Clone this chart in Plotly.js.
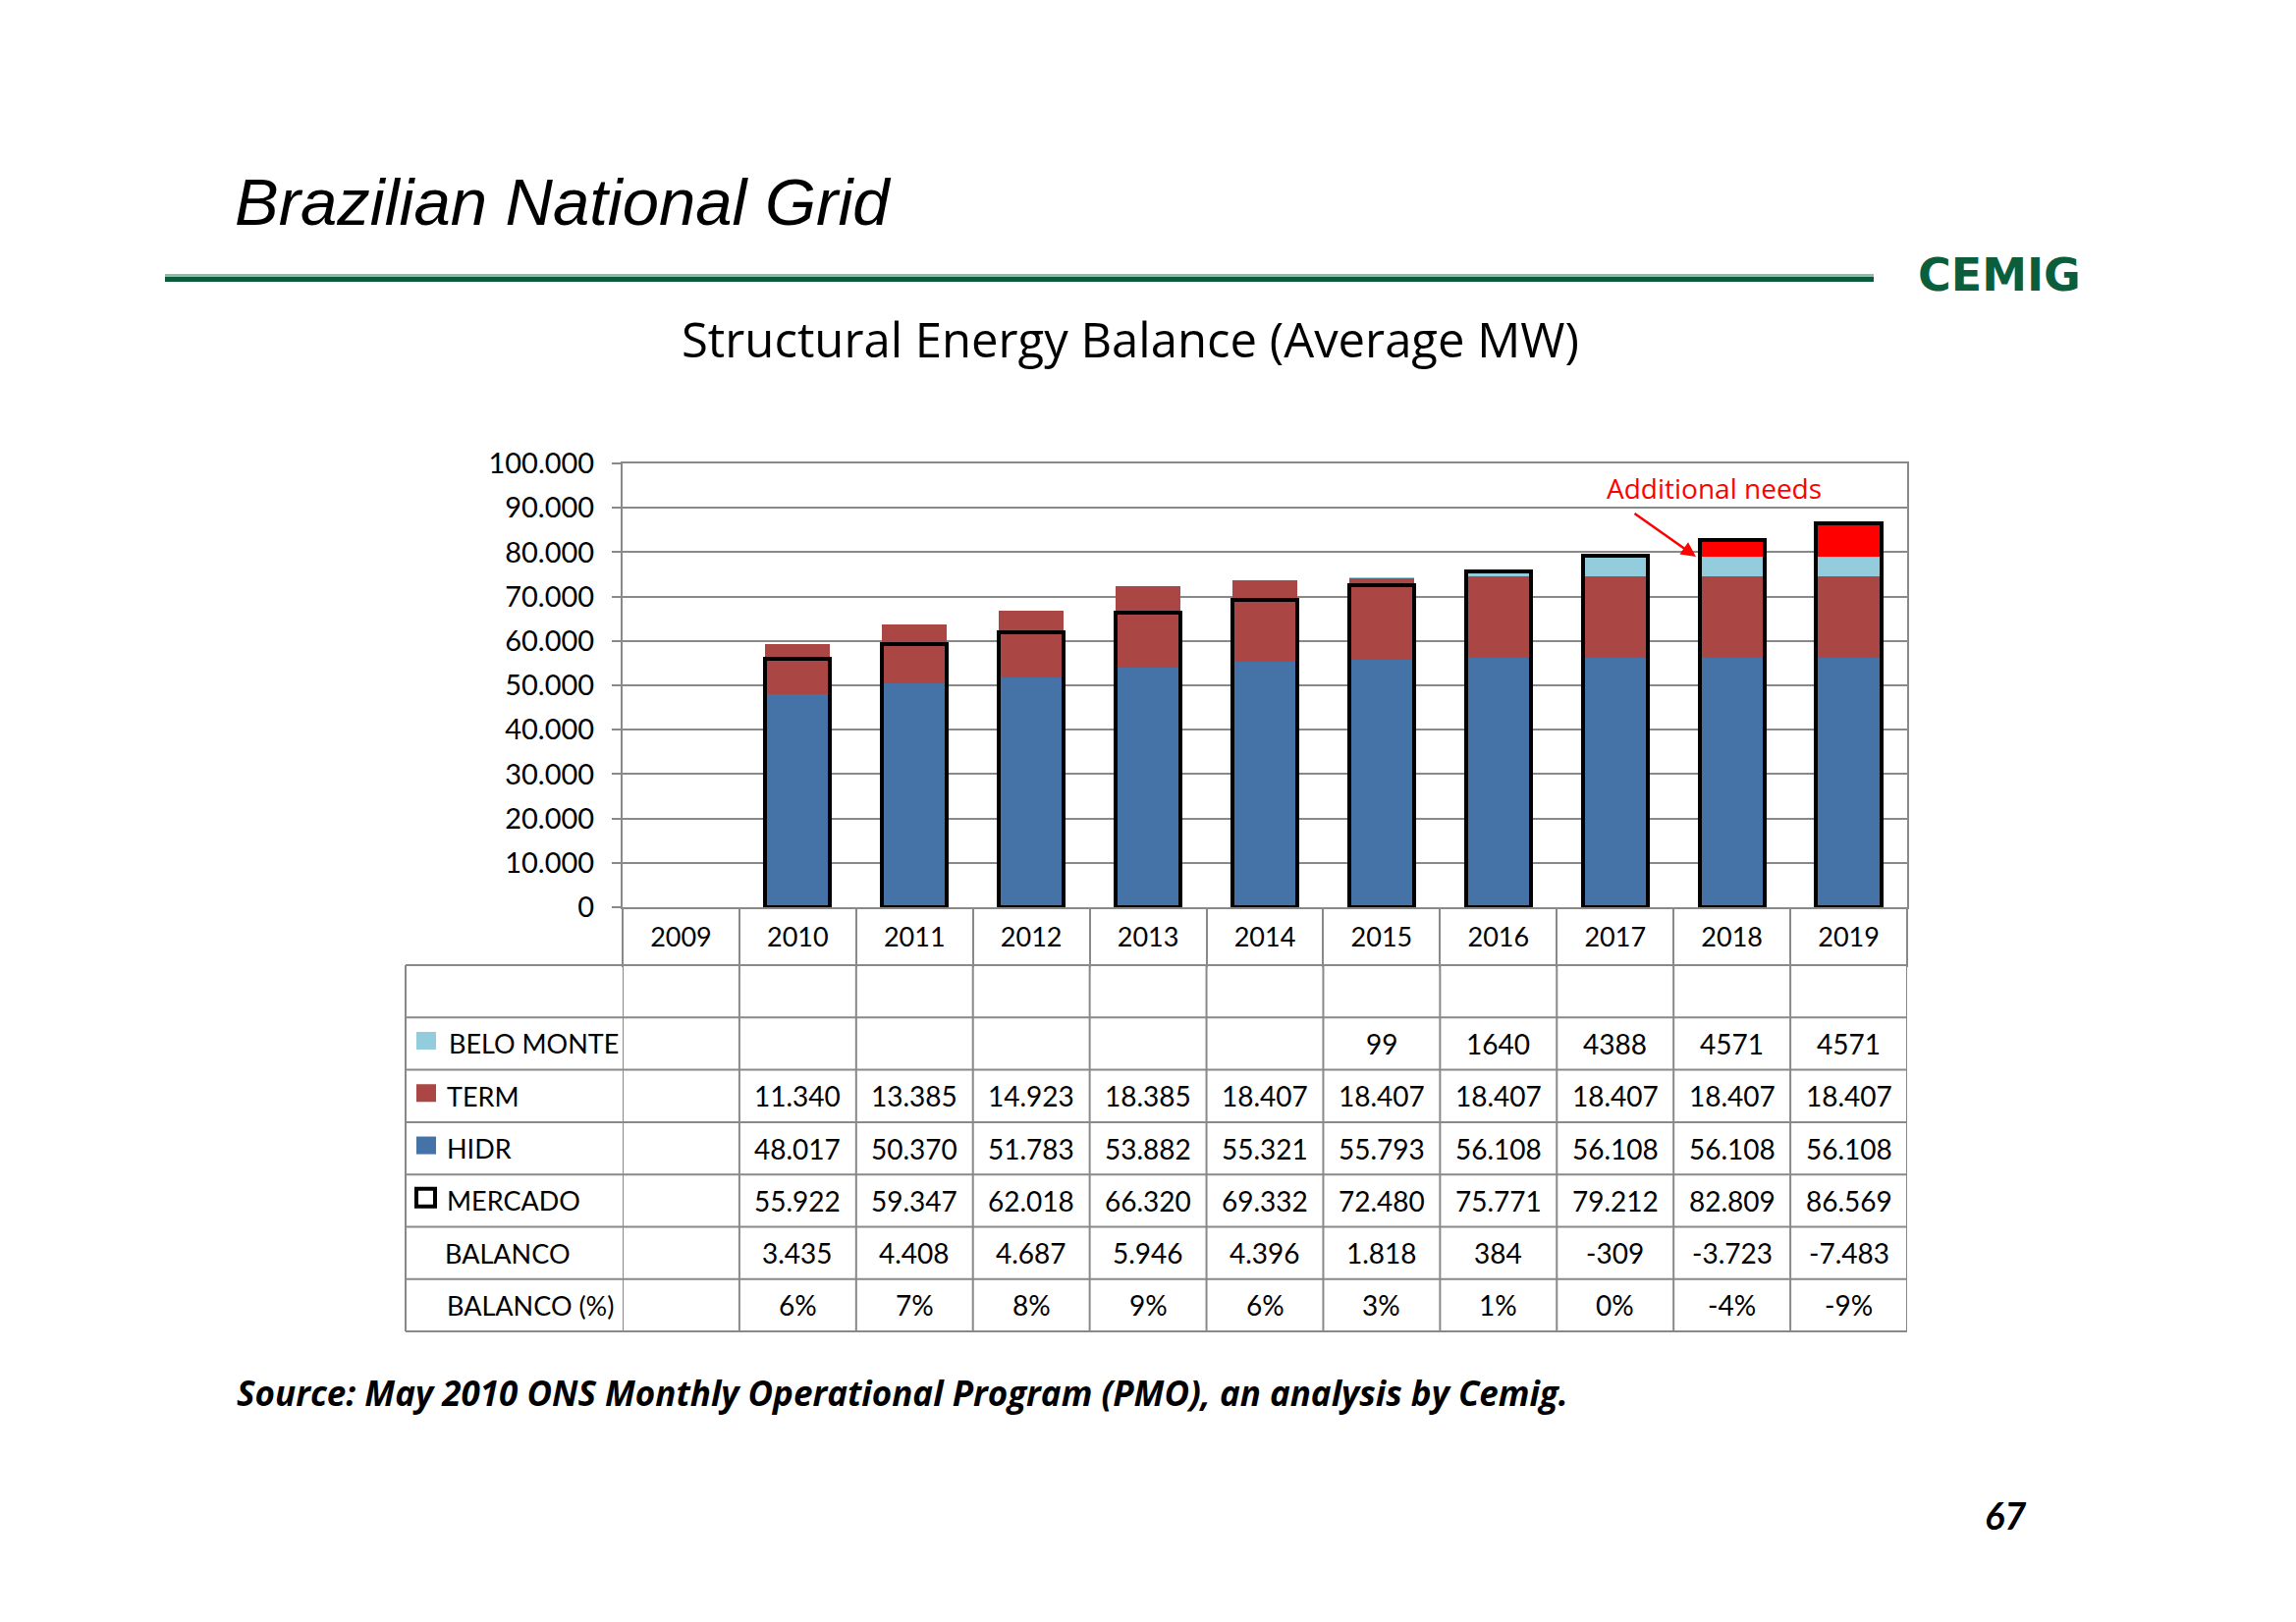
<!DOCTYPE html>
<html>
<head>
<meta charset="utf-8">
<script src="https://cdn.plot.ly/plotly-3.0.1.min.js"></script>
<style>html,body{margin:0;padding:0;background:#fff;}#chart{width:2338px;height:1652px;}</style>
</head>
<body>
<div id="chart"></div>
<script>
// ---------- DATA ----------
const years = ['2009','2010','2011','2012','2013','2014','2015','2016','2017','2018','2019'];
const beloMonte = [null, null, null, null, null, null, 99, 1640, 4388, 4571, 4571];
const term = [null, 11340, 13385, 14923, 18385, 18407, 18407, 18407, 18407, 18407, 18407];
const hidr = [null, 48017, 50370, 51783, 53882, 55321, 55793, 56108, 56108, 56108, 56108];
const mercado = [null, 55922, 59347, 62018, 66320, 69332, 72480, 75771, 79212, 82809, 86569];
const balanco = [null, 3435, 4408, 4687, 5946, 4396, 1818, 384, -309, -3723, -7483];
const balancoPct = [null, 6, 7, 8, 9, 6, 3, 1, 0, -4, -9];
const additionalNeeds = [null, null, null, null, null, null, null, null, 309, 3723, 7483];
const yTicks = [0, 10000, 20000, 30000, 40000, 50000, 60000, 70000, 80000, 90000, 100000];
const rowLabels = ['', 'BELO MONTE', 'TERM', 'HIDR', 'MERCADO', 'BALANCO', 'BALANCO (%)'];

// ---------- LAYOUT HELPERS ----------
const L = 634, R = 1942, T = 472, B = 924;
const px = X => (X - L) / (R - L);
const py = Y => (B - Y) / (B - T);
const tableTop = 983, rowH = 53.3;
const rowTop = i => tableTop + i * rowH;
const gray = '#898989';
const FONT = 'Lato, "Open Sans", sans-serif';
const WIDE = '"Open Sans", Lato, sans-serif';

function thou(v) {
  const s = String(Math.abs(v)).replace(/\B(?=(\d{3})+(?!\d))/g, '.');
  return (v < 0 ? '-' : '') + s;
}

// ---------- TRACES ----------
const barW = 0.556;
const common = {type: 'bar', x: years, width: barW, hoverinfo: 'skip'};
const traces = [
  Object.assign({}, common, {name: 'HIDR', y: hidr, marker: {color: '#4572A7'}}),
  Object.assign({}, common, {name: 'TERM', y: term, marker: {color: '#AA4643'}}),
  Object.assign({}, common, {name: 'BELO MONTE', y: beloMonte, marker: {color: '#93CDDD'}}),
  Object.assign({}, common, {name: 'Additional needs', y: additionalNeeds, marker: {color: '#FF0000'}}),
  Object.assign({}, common, {name: 'MERCADO', y: mercado, xaxis: 'x2', yaxis: 'y',
    marker: {color: 'rgba(0,0,0,0)', line: {color: '#000000', width: 4}}})
];

// ---------- SHAPES (table grid, swatches, header rule) ----------
const shapes = [];
shapes.push({type: 'rect', xref: 'paper', yref: 'paper', x0: px(168), x1: px(1908), y0: py(279), y1: py(282),
  fillcolor: '#8fbca7', line: {width: 0}, layer: 'above'});
shapes.push({type: 'rect', xref: 'paper', yref: 'paper', x0: px(168), x1: px(1908), y0: py(282), y1: py(287),
  fillcolor: '#0b5a3b', line: {width: 0}, layer: 'above'});
for (let i = 0; i <= 7; i++) {
  shapes.push({type: 'line', xref: 'paper', yref: 'paper', x0: px(413), x1: 1, y0: py(rowTop(i)), y1: py(rowTop(i)),
    line: {color: gray, width: 2}});
}
shapes.push({type: 'line', xref: 'paper', yref: 'paper', x0: px(413), x1: px(413), y0: py(rowTop(0)), y1: py(rowTop(7)),
  line: {color: gray, width: 2}});
for (let k = 0; k <= years.length; k++) {
  shapes.push({type: 'line', xref: 'x', yref: 'paper', x0: k - 0.5, x1: k - 0.5, y0: py(rowTop(0)), y1: py(rowTop(7)),
    line: {color: gray, width: 2}});
}
const swatchColors = {1: '#93CDDD', 2: '#AA4643', 3: '#4572A7'};
[1, 2, 3].forEach(i => {
  const c = rowTop(i) + rowH / 2 - 3;
  shapes.push({type: 'rect', xref: 'paper', yref: 'paper', x0: px(424), x1: px(444), y0: py(c - 9), y1: py(c + 9),
    fillcolor: swatchColors[i], line: {width: 0}});
});
{
  const c = rowTop(4) + rowH / 2 - 3;
  shapes.push({type: 'rect', xref: 'paper', yref: 'paper', x0: px(424), x1: px(443), y0: py(c - 9), y1: py(c + 9),
    fillcolor: 'rgba(0,0,0,0)', line: {color: '#000', width: 4}});
}

// ---------- ANNOTATIONS ----------
const ann = [];
const labelX = [455, 455, 453, 453, 453, 451, 453];
for (let i = 1; i <= 6; i++) {
  ann.push({xref: 'paper', yref: 'paper', x: px(labelX[i]), y: py(rowTop(i) + rowH / 2), xanchor: 'left', yanchor: 'middle',
    text: rowLabels[i], showarrow: false, font: {family: FONT, size: 27, color: '#000'}});
}
const rows = [
  {i: 1, vals: beloMonte, f: v => String(v)},
  {i: 2, vals: term, f: thou},
  {i: 3, vals: hidr, f: thou},
  {i: 4, vals: mercado, f: thou},
  {i: 5, vals: balanco, f: thou},
  {i: 6, vals: balancoPct, f: v => v + '%'}
];
rows.forEach(r => {
  r.vals.forEach((v, j) => {
    if (v === null || v === undefined) return;
    ann.push({xref: 'x', yref: 'paper', x: j, y: py(rowTop(r.i) + rowH / 2), xanchor: 'center', yanchor: 'middle',
      text: r.f(v), showarrow: false, font: {family: FONT, size: 28, color: '#000'}});
  });
});
ann.push({xref: 'paper', yref: 'paper', x: px(1151), y: py(345), xanchor: 'center', yanchor: 'middle',
  text: 'Structural Energy Balance (Average MW)', showarrow: false, font: {family: WIDE, size: 49, color: '#000'}});
ann.push({xref: 'paper', yref: 'paper', x: px(1745), y: py(497), xanchor: 'center', yanchor: 'middle',
  text: 'Additional needs', showarrow: false, font: {family: WIDE, size: 28, color: '#FF0000'}});
ann.push({xref: 'paper', yref: 'paper', x: px(1727), y: py(567), ax: -64, ay: -45, text: '', showarrow: true,
  arrowhead: 2, arrowsize: 1.2, arrowwidth: 2.5, arrowcolor: '#FF0000', standoff: 0});
ann.push({xref: 'paper', yref: 'paper', x: px(239), y: py(1418), xanchor: 'left', yanchor: 'middle',
  text: '<b><i>Source: May 2010 ONS Monthly Operational Program (PMO), an analysis by Cemig.</i></b>', showarrow: false,
  font: {family: WIDE, size: 35, color: '#000'}});
ann.push({xref: 'paper', yref: 'paper', x: px(2065), y: py(1543), xanchor: 'right', yanchor: 'middle',
  text: '<b><i>67</i></b>', showarrow: false, font: {family: FONT, size: 38, color: '#000'}});
// logo
ann.push({xref: 'paper', yref: 'paper', x: px(2036), y: py(280), xanchor: 'center', yanchor: 'middle',
  text: '<b>CEMIG</b>', showarrow: false, font: {family: 'DejaVu Sans', size: 46, color: '#0b5e3b'}});

const layout = {
  width: 2338, height: 1652,
  margin: {l: L, r: 2338 - R, t: T, b: 1652 - B, pad: 0},
  paper_bgcolor: '#ffffff', plot_bgcolor: '#ffffff',
  separators: ',.',
  font: {family: FONT, size: 27, color: '#000'},
  barmode: 'stack',
  showlegend: false,
  title: {text: 'Brazilian National Grid', xref: 'container', yref: 'container', x: 239 / 2338, xanchor: 'left',
    y: 1 - 206 / 1652, yanchor: 'middle', font: {family: '"Liberation Sans", Arial, sans-serif', size: 67, style: 'italic', color: '#000'}},
  xaxis: {type: 'category', categoryorder: 'array', categoryarray: years, range: [-0.5, 10.5],
    showgrid: false, zeroline: false, showline: true, mirror: true, linecolor: gray, linewidth: 2,
    ticks: 'outside', tickson: 'boundaries', ticklen: 59, tickwidth: 2, tickcolor: gray,
    ticklabelstandoff: 6, tickfont: {family: FONT, size: 27, color: '#000'}, fixedrange: true},
  xaxis2: {type: 'category', categoryorder: 'array', categoryarray: years, range: [-0.5, 10.5],
    overlaying: 'x', visible: false, fixedrange: true},
  yaxis: {range: [0, 100000], tickvals: yTicks, tickformat: ',d', showgrid: true, gridcolor: gray, gridwidth: 2,
    zeroline: false, showline: true, mirror: true, linecolor: gray, linewidth: 2,
    ticks: 'outside', ticklen: 9, tickwidth: 2, tickcolor: gray, ticklabelstandoff: 12,
    tickfont: {family: FONT, size: 29, color: '#000'}, fixedrange: true},
  shapes: shapes,
  annotations: ann
};

Plotly.newPlot('chart', traces, layout, {displayModeBar: false, staticPlot: true});
</script>
</body>
</html>
